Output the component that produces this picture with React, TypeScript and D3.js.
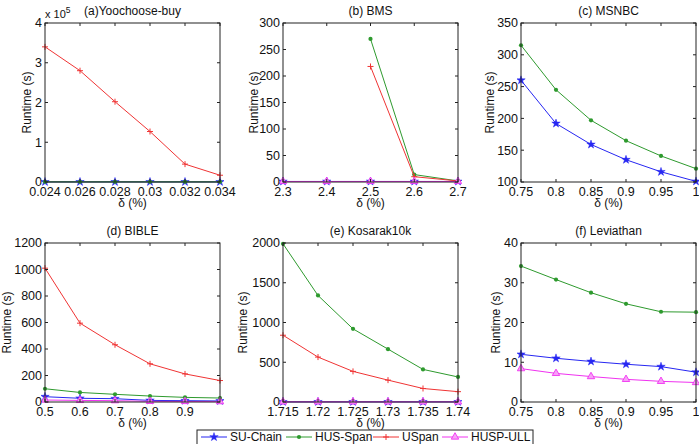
import React from "react";
import * as d3 from "d3";

// series order: SU-Chain, HUS-Span, USpan, HUSP-ULL
const SERIES_NAMES = ["SU-Chain", "HUS-Span", "USpan", "HUSP-ULL"];
const SERIES_COLORS = ["#2626f2", "#2e9a2e", "#f03434", "#f032f0"];

// (a) Yoochoose-buy
const yooX = [0.024, 0.026, 0.028, 0.03, 0.032, 0.034];
const yooSUChain = [300, 300, 300, 300, 300, 300];
const yooHUSSpan = [350, 350, 350, 350, 350, 350];
const yooUSpan = [340000, 280000, 202000, 127000, 45000, 17000];
const yooYTicks = [0, 100000, 200000, 300000, 400000];

// (b) BMS
const bmsX = [2.3, 2.4, 2.5, 2.6, 2.7];
const bmsSUChain = [1, 1, 1, 1, 1];
const bmsHUSSpan = [null, null, 270, 14, 2];
const bmsUSpan = [null, null, 218, 10, 2];
const bmsHUSPULL = [1, 1, 1, 1, 1];
const bmsYTicks = [0, 50, 100, 150, 200, 250, 300];

// (c) MSNBC
const msnbcX = [0.75, 0.8, 0.85, 0.9, 0.95, 1];
const msnbcSUChain = [260, 192, 159, 135, 116, 101];
const msnbcHUSSpan = [315, 245, 197, 165, 141, 121];
const msnbcYTicks = [100, 150, 200, 250, 300, 350];

// (d) BIBLE
const bibleX = [0.5, 0.6, 0.7, 0.8, 0.9, 1.0];
const bibleSUChain = [40, 28, 25, 12, 10, 8];
const bibleHUSSpan = [100, 72, 58, 45, 35, 30];
const bibleUSpan = [1010, 595, 432, 288, 212, 162];
const bibleHUSPULL = [15, 12, 10, 5, 4, 3];
const bibleXTicks = [0.5, 0.6, 0.7, 0.8, 0.9];
const bibleYTicks = [0, 200, 400, 600, 800, 1000, 1200];

// (e) Kosarak10k
const kosX = [1.715, 1.72, 1.725, 1.73, 1.735, 1.74];
const kosSUChain = [2, 2, 2, 2, 2, 2];
const kosHUSSpan = [1990, 1340, 920, 665, 410, 315];
const kosUSpan = [840, 565, 385, 275, 170, 130];
const kosHUSPULL = [2, 2, 2, 2, 2, 2];
const kosYTicks = [0, 500, 1000, 1500, 2000];

// (f) Leviathan
const levX = [0.75, 0.8, 0.85, 0.9, 0.95, 1];
const levSUChain = [12, 11, 10.2, 9.5, 8.9, 7.5];
const levHUSSpan = [34.2, 30.8, 27.5, 24.7, 22.7, 22.6];
const levHUSPULL = [8.4, 7.2, 6.4, 5.7, 5.2, 4.9];
const levYTicks = [0, 10, 20, 30, 40];

type Panel = {
  title: string;
  x: number[];
  series: (Array<number | null> | null)[];
  xTicks: number[];
  yTicks: number[];
  yDiv?: number;
  left: number;
  top: number;
  yLabelDx: number;
};

const W = 175;
const H = 159;
const FONT = "'Liberation Sans', Arial, Helvetica, sans-serif";
const TICK_FS = 12.5;

const panels: Panel[] = [
  { title: "(a)Yoochoose-buy", x: yooX, series: [yooSUChain, yooHUSSpan, yooUSpan, null], xTicks: yooX, yTicks: yooYTicks, yDiv: 100000, left: 45, top: 23, yLabelDx: -14 },
  { title: "(b) BMS", x: bmsX, series: [bmsSUChain, bmsHUSSpan, bmsUSpan, bmsHUSPULL], xTicks: bmsX, yTicks: bmsYTicks, left: 283, top: 23, yLabelDx: -25 },
  { title: "(c) MSNBC", x: msnbcX, series: [msnbcSUChain, msnbcHUSSpan, null, null], xTicks: msnbcX, yTicks: msnbcYTicks, left: 521, top: 23, yLabelDx: -27 },
  { title: "(d) BIBLE", x: bibleX, series: [bibleSUChain, bibleHUSSpan, bibleUSpan, bibleHUSPULL], xTicks: bibleXTicks, yTicks: bibleYTicks, left: 45, top: 243, yLabelDx: -34 },
  { title: "(e) Kosarak10k", x: kosX, series: [kosSUChain, kosHUSSpan, kosUSpan, kosHUSPULL], xTicks: kosX, yTicks: kosYTicks, left: 283, top: 243, yLabelDx: -36 },
  { title: "(f) Leviathan", x: levX, series: [levSUChain, levHUSSpan, null, levHUSPULL], xTicks: levX, yTicks: levYTicks, left: 521, top: 243, yLabelDx: -21 },
];

const fmt = (v: number) => `${+v.toFixed(4)}`;

function Marker({ kind, x, y }: { kind: number; x: number; y: number }) {
  const c = SERIES_COLORS[kind];
  if (kind === 0) {
    return <path d={d3.symbol(d3.symbolStar, 22)()!} transform={`translate(${x},${y})`} fill={c} stroke={c} strokeWidth={0.5} />;
  }
  if (kind === 1) {
    return <circle cx={x} cy={y} r={2.1} fill={c} />;
  }
  if (kind === 2) {
    return <path d={`M${x - 3},${y}H${x + 3}M${x},${y - 3}V${y + 3}`} stroke={c} strokeWidth={1} />;
  }
  return <path d={d3.symbol(d3.symbolTriangle, 24)()!} transform={`translate(${x},${y})`} fill="#f7a0f7" stroke={c} strokeWidth={0.9} />;
}

function Chart({ p, idx }: { p: Panel; idx: number }) {
  const xScale = d3.scaleLinear().domain([p.x[0], p.x[p.x.length - 1]]).range([0, W]);
  const yScale = d3
    .scaleLinear()
    .domain([p.yTicks[0], p.yTicks[p.yTicks.length - 1]])
    .range([H, 0]);
  const line = d3
    .line<number | null>()
    .defined((d) => d !== null)
    .x((_, i) => xScale(p.x[i]))
    .y((d) => yScale(d as number));
  const tick = 3;
  return (
    <g transform={`translate(${p.left},${p.top})`} fontFamily={FONT}>
      <defs>
        <clipPath id={`clip${idx}`}>
          <rect x={-4} y={-4} width={W + 8} height={H + 8} />
        </clipPath>
      </defs>
      <rect width={W} height={H} fill="#fff" />
      <g clipPath={`url(#clip${idx})`}>
        {p.series.map((s, k) =>
          s ? (
            <g key={k}>
              <path d={line(s) || ""} fill="none" stroke={SERIES_COLORS[k]} strokeWidth={1} />
              {s.map((v, i) => (v === null ? null : <Marker key={i} kind={k} x={xScale(p.x[i])} y={yScale(v)} />))}
            </g>
          ) : null
        )}
      </g>
      <rect width={W} height={H} fill="none" stroke="#222" strokeWidth={1} />
      {p.xTicks.map((t) => (
        <g key={t} transform={`translate(${xScale(t)},0)`}>
          <line y1={H} y2={H - tick} stroke="#222" />
          <line y1={0} y2={tick} stroke="#222" />
          <text y={H + 14} textAnchor="middle" fontSize={TICK_FS} fill="#111">
            {fmt(t)}
          </text>
        </g>
      ))}
      {p.yTicks.map((t) => (
        <g key={t} transform={`translate(0,${yScale(t)})`}>
          <line x1={0} x2={tick} stroke="#222" />
          <line x1={W} x2={W - tick} stroke="#222" />
          <text x={-3} dy="0.35em" textAnchor="end" fontSize={TICK_FS} fill="#111">
            {fmt(p.yDiv ? t / p.yDiv : t)}
          </text>
        </g>
      ))}
      {p.yDiv ? (
        <text x={0} y={-5} fontSize={11} fill="#111">
          x 10
          <tspan dy={-5} fontSize={8.5}>
            5
          </tspan>
        </text>
      ) : null}
      <text x={W / 2} y={-8} textAnchor="middle" fontSize={12} fill="#111">
        {p.title}
      </text>
      <text x={W / 2} y={H + 25} textAnchor="middle" fontSize={12} fill="#111">
        δ (%)
      </text>
      <text transform={`translate(${p.yLabelDx},${H / 2}) rotate(-90)`} textAnchor="middle" fontSize={12} fill="#111">
        Runtime (s)
      </text>
    </g>
  );
}

const legendStarts = [201, 286, 373, 442];

export default function App() {
  return (
    <svg width={699} height={444} style={{ position: "absolute", left: 0, top: 0, background: "#fff" }}>
      <rect width={699} height={444} fill="#fff" />
      {panels.map((p, i) => (
        <Chart key={i} p={p} idx={i} />
      ))}
      <g fontFamily={FONT}>
        <rect x={197} y={430} width={336} height={22} fill="#fff" stroke="#222" />
        {SERIES_NAMES.map((name, k) => (
          <g key={name}>
            <line x1={legendStarts[k]} x2={legendStarts[k] + 26} y1={437} y2={437} stroke={SERIES_COLORS[k]} />
            <Marker kind={k} x={legendStarts[k] + 13} y={437} />
            <text x={legendStarts[k] + 29} y={441} fontSize={12} fill="#111">
              {name}
            </text>
          </g>
        ))}
      </g>
    </svg>
  );
}
